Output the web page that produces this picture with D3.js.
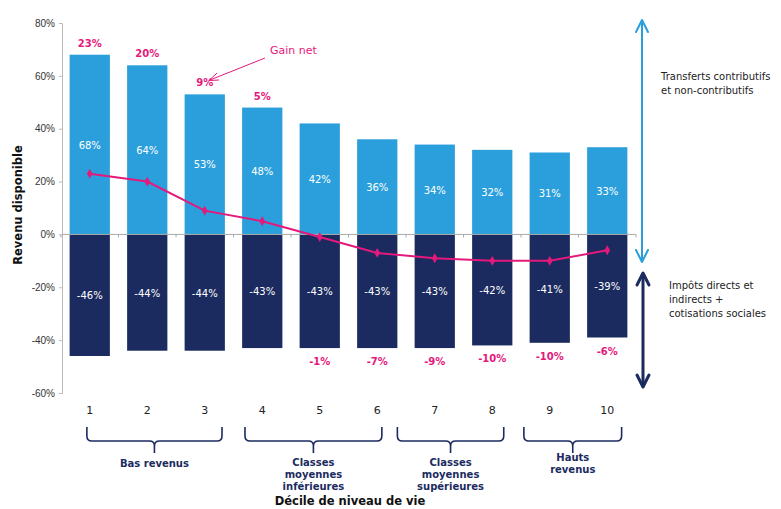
<!DOCTYPE html>
<html><head><meta charset="utf-8">
<script src="https://cdn.jsdelivr.net/npm/d3@7"></script>
<style>
html,body{margin:0;padding:0;background:#fff;}
svg{display:block;font-family:"DejaVu Sans",Verdana,sans-serif;}
</style></head>
<body>
<svg id="c" width="781" height="509"></svg>
<script>
const deciles = ["1","2","3","4","5","6","7","8","9","10"];
const transfers = [68,64,53,48,42,36,34,32,31,33];
const taxes = [-46,-44,-44,-43,-43,-43,-43,-42,-41,-39];
const netGain = [23,20,9,5,-1,-7,-9,-10,-10,-6];
const yTicks = [80,60,40,20,0,-20,-40,-60];
const groupLabels = [["Bas revenus"],["Classes","moyennes","inférieures"],["Classes","moyennes","supérieures"],["Hauts","revenus"]];
const groupFrom = ["1","4","7","9"];
const groupTo = ["3","6","8","10"];

const LIGHT="#2a9fdc", DARK="#1b2b5f", PINK="#e5197b";
const svg=d3.select("#c");
const x=d3.scaleBand().domain(deciles).range([61,636]).paddingInner(0.3).paddingOuter(0.15);
const y=d3.scaleLinear().domain([-60,80]).range([393,23]);

// y axis
const ya=svg.append("g").attr("transform","translate(62,0)")
  .call(d3.axisLeft(y).tickValues(yTicks).tickSize(3).tickFormat(d=>d+"%"));
ya.select(".domain").attr("stroke","#bbb");
ya.selectAll(".tick line").attr("stroke","#bbb");
ya.selectAll(".tick text").attr("fill","#333").style("font-size","10px").attr("x",-7);

// bars
const idx=d3.range(deciles.length);
svg.append("g").selectAll("rect").data(idx).join("rect")
  .attr("x",i=>x(deciles[i])).attr("width",x.bandwidth())
  .attr("y",i=>y(transfers[i])).attr("height",i=>y(0)-y(transfers[i]))
  .attr("fill",LIGHT);
svg.append("g").selectAll("rect").data(idx).join("rect")
  .attr("x",i=>x(deciles[i])).attr("width",x.bandwidth())
  .attr("y",y(0)).attr("height",i=>y(taxes[i])-y(0))
  .attr("fill",DARK);

// zero axis
const xa=svg.append("g").attr("transform",`translate(0,${y(0)})`);
xa.append("line").attr("x1",62).attr("x2",636).attr("stroke","#aaa");
const step=x.step();
xa.selectAll("line.t").data(d3.range(11)).join("line").attr("class","t")
  .attr("x1",i=>x(deciles[0])-(step-x.bandwidth())/2+i*step)
  .attr("x2",i=>x(deciles[0])-(step-x.bandwidth())/2+i*step)
  .attr("y1",0).attr("y2",3).attr("stroke","#aaa");

// bar value labels
const cx=i=>x(deciles[i])+x.bandwidth()/2;
svg.append("g").selectAll("text").data(idx).join("text")
  .attr("x",cx).attr("y",i=>(y(transfers[i])+y(0))/2+4)
  .attr("text-anchor","middle").attr("fill","#fff").style("font-size","10px")
  .text(i=>transfers[i]+"%");
svg.append("g").selectAll("text").data(idx).join("text")
  .attr("x",cx).attr("y",i=>(y(taxes[i])+y(0))/2+4)
  .attr("text-anchor","middle").attr("fill","#fff").style("font-size","10px")
  .text(i=>taxes[i]+"%");

// net gain labels
svg.append("g").selectAll("text").data(idx).join("text")
  .attr("x",cx)
  .attr("y",i=>netGain[i]>=0 ? y(transfers[i])-8 : y(taxes[i])+17)
  .attr("text-anchor","middle").attr("fill",PINK).style("font-size","10px").style("font-weight","bold")
  .text(i=>netGain[i]+"%");

// net gain line
const line=d3.line().x(i=>cx(i)).y(i=>y(netGain[i]));
svg.append("path").datum(idx).attr("d",line).attr("fill","none").attr("stroke",PINK).attr("stroke-width",2);
svg.append("g").selectAll("path").data(idx).join("path")
  .attr("transform",i=>`translate(${cx(i)},${y(netGain[i])})`)
  .attr("d",d3.symbol(d3.symbolDiamond,28)).attr("fill",PINK);

// Gain net annotation
svg.append("text").attr("x",270).attr("y",54).attr("fill",PINK).style("font-size","11px").text("Gain net");
svg.append("line").attr("x1",265).attr("y1",58).attr("x2",210).attr("y2",80).attr("stroke",PINK).attr("stroke-width",1);
svg.append("path").attr("d","M217,73 L209,80.5 L219,80").attr("fill","none").attr("stroke",PINK).attr("stroke-width",1);

// right arrows
function dblArrow(xp,y1,y2,color,w,hw,hh){
  const g=svg.append("g").attr("stroke",color).attr("fill","none").attr("stroke-width",w).attr("stroke-linecap","round").attr("stroke-linejoin","round");
  g.append("line").attr("x1",xp).attr("x2",xp).attr("y1",y1+1).attr("y2",y2-1);
  g.append("path").attr("d",`M${xp-hw},${y1+hh} L${xp},${y1} L${xp+hw},${y1+hh}`);
  g.append("path").attr("d",`M${xp-hw},${y2-hh} L${xp},${y2} L${xp+hw},${y2-hh}`);
}
dblArrow(642,20,262,LIGHT,2,6,12);
dblArrow(643,273,387,DARK,3,6,12);

const rt=svg.append("g").style("font-size","10px").attr("fill","#222");
rt.append("text").attr("x",661).attr("y",80).text("Transferts contributifs");
rt.append("text").attr("x",661).attr("y",94).text("et non-contributifs");
rt.append("text").attr("x",669).attr("y",289).text("Impôts directs et");
rt.append("text").attr("x",669).attr("y",303).text("indirects +");
rt.append("text").attr("x",669).attr("y",317).text("cotisations sociales");

// decile labels
svg.append("g").selectAll("text").data(idx).join("text")
  .attr("x",cx).attr("y",414).attr("text-anchor","middle").attr("fill","#222").style("font-size","11px")
  .text(i=>deciles[i]);

// braces (hand-drawn extents, in fractions of a band step around the decile centres)
const braceOffL=[-0.05,-0.3,-0.65,-0.45];
const braceOffR=[0.3,0.08,0.2,0.25];
const bg=svg.append("g");
groupLabels.forEach((lines,g)=>{
  const a=cx(deciles.indexOf(groupFrom[g]))+braceOffL[g]*step;
  const b=cx(deciles.indexOf(groupTo[g]))+braceOffR[g]*step;
  const m=(a+b)/2, t=427, h=441, r=5;
  bg.append("path").attr("d",
    `M${a},${t} L${a},${h-r} Q${a},${h} ${a+r},${h} L${m-r},${h} Q${m},${h} ${m},${h+r} L${m},${h+12} M${m},${h+r} Q${m},${h} ${m+r},${h} L${b-r},${h} Q${b},${h} ${b},${h-r} L${b},${t}`)
    .attr("fill","none").attr("stroke",DARK).attr("stroke-width",1.6);
  const n=lines.length;
  const y0 = n===1 ? 467 : (n===2 ? 461 : 466);
  lines.forEach((l,k)=>{
    bg.append("text").attr("x",m).attr("y",y0+k*12).attr("text-anchor","middle")
      .attr("fill",DARK).style("font-size","10px").style("font-weight","bold").text(l);
  });
});

// axis titles
svg.append("text").attr("x",350).attr("y",505).attr("text-anchor","middle").attr("fill","#111")
  .style("font-size","11.5px").style("font-weight","bold").text("Décile de niveau de vie");
svg.append("text").attr("transform","translate(22,205) rotate(-90)").attr("text-anchor","middle").attr("fill","#111")
  .style("font-size","11.5px").style("font-weight","bold").text("Revenu disponible");
</script>
</body></html>
